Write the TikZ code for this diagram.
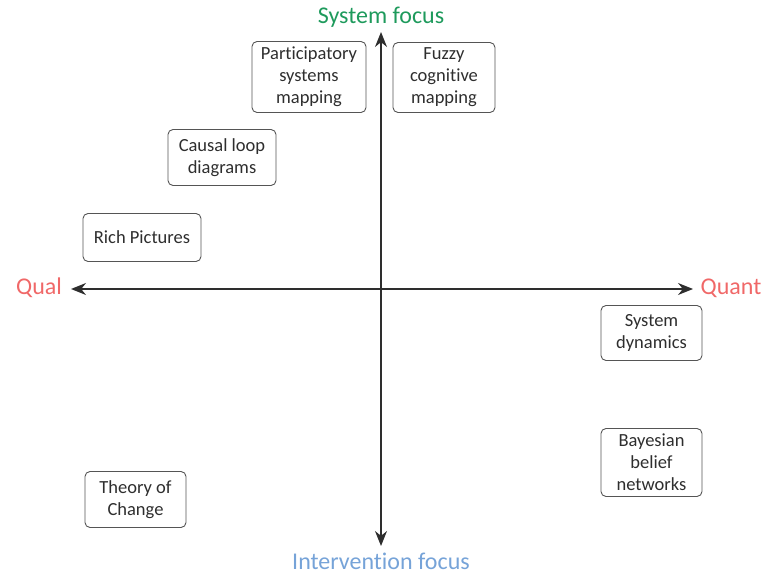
\documentclass[tikz,border=0pt]{standalone}
\usepackage{fontspec}
\setmainfont{Carlito}[Ligatures=NoCommon]
\usetikzlibrary{arrows.meta}
\definecolor{inkgray}{HTML}{2E2E2E}
\definecolor{boxgray}{HTML}{555555}
\definecolor{sysgreen}{HTML}{1E9A5C}
\definecolor{qualred}{HTML}{F06868}
\definecolor{intblue}{HTML}{76A3D8}
\begin{document}
\begin{tikzpicture}[x=1pt,y=-1pt,
  method/.style={draw=boxgray, line width=0.9pt, rounded corners=5pt, align=center,
    text=inkgray, font=\fontsize{18.5}{22}\selectfont, inner sep=0pt},
  axis/.style={draw=inkgray, line width=1.6pt, {Stealth[length=15pt,width=12pt]}-{Stealth[length=15pt,width=12pt]}},
  axislabel/.style={font=\fontsize{24}{28}\selectfont}]
\useasboundingbox (0,0) rectangle (764,575);

% axis end points
\coordinate (left) at (71,289);
\coordinate (right) at (693,289);
\coordinate (top) at (381,32);
\coordinate (bottom) at (381,546);

\draw[axis] (left) -- (right);
\draw[axis] (bottom) -- (top);

% axis labels
\node[axislabel, text=sysgreen] (sys) at (381,17) {System focus};
\node[axislabel, text=intblue] (int) at (381,561) {Intervention focus};
\node[axislabel, text=qualred] (qual) at (39,288) {Qual};
\node[axislabel, text=qualred] (quant) at (731,288) {Quant};

% methods
\node[method, minimum width=114pt, minimum height=71pt] (psm) at (309,77) {Participatory\\systems\\mapping};
\node[method, minimum width=102pt, minimum height=70pt] (fcm) at (444,77.5) {Fuzzy\\cognitive\\mapping};
\node[method, minimum width=108pt, minimum height=56pt] (cld) at (222,157.5) {Causal loop\\diagrams};
\node[method, minimum width=118pt, minimum height=48pt] (rp) at (142,237.5) {Rich Pictures};
\node[method, minimum width=101pt, minimum height=55pt] (sd) at (651.5,333) {System\\dynamics};
\node[method, minimum width=101pt, minimum height=68pt] (bbn) at (651.5,462.5) {Bayesian\\belief\\networks};
\node[method, minimum width=101pt, minimum height=56pt] (toc) at (135.5,499.5) {Theory of\\Change};
\end{tikzpicture}
\end{document}
